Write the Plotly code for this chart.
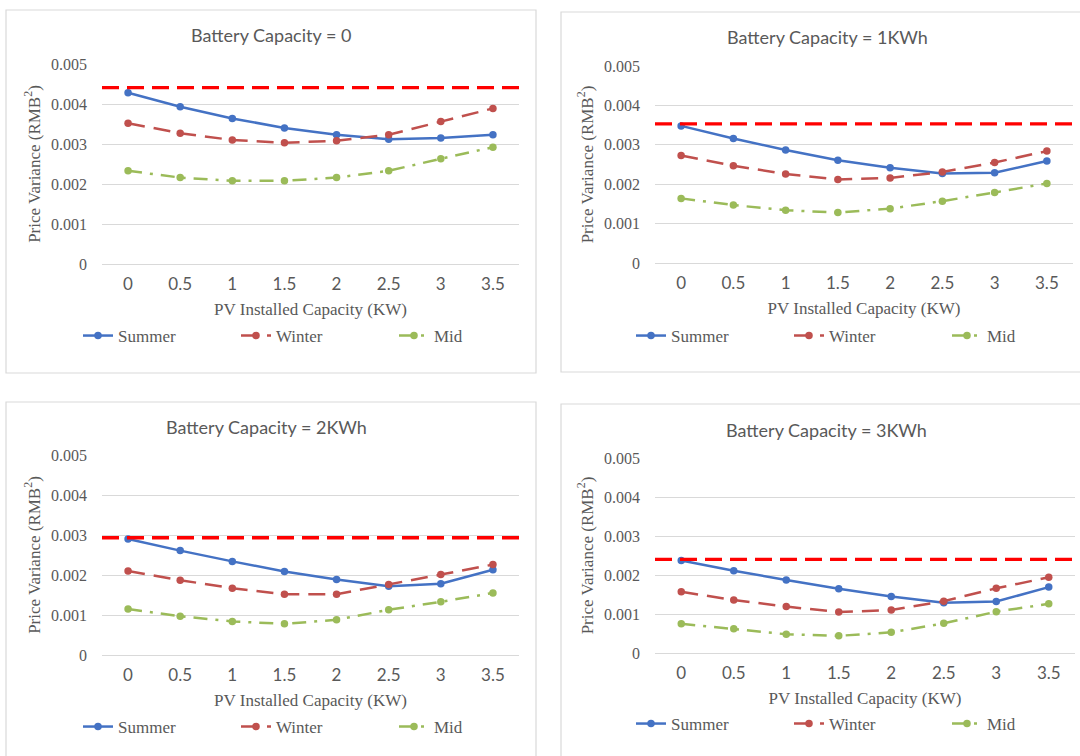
import plotly.graph_objects as go

# ---------------- data ----------------
pv_capacity = ["0", "0.5", "1", "1.5", "2", "2.5", "3", "3.5"]

panel_titles = ["Battery Capacity = 0", "Battery Capacity = 1KWh",
                "Battery Capacity = 2KWh", "Battery Capacity = 3KWh"]

summer_b0 = [0.00428, 0.00393, 0.00364, 0.00340, 0.00323, 0.00312, 0.00315, 0.00323]
winter_b0 = [0.00352, 0.00327, 0.00310, 0.00303, 0.00308, 0.00323, 0.00356, 0.00389]
mid_b0 = [0.00233, 0.00216, 0.00208, 0.00208, 0.00216, 0.00233, 0.00263, 0.00292]
baseline_b0 = 0.00441

summer_b1 = [0.00348, 0.00316, 0.00287, 0.00261, 0.00242, 0.00227, 0.00229, 0.00259]
winter_b1 = [0.00273, 0.00247, 0.00226, 0.00212, 0.00216, 0.00231, 0.00255, 0.00284]
mid_b1 = [0.00164, 0.00147, 0.00134, 0.00128, 0.00138, 0.00157, 0.00179, 0.00202]
baseline_b1 = 0.00353

summer_b2 = [0.00290, 0.00261, 0.00234, 0.00209, 0.00189, 0.00172, 0.00178, 0.00213]
winter_b2 = [0.00210, 0.00187, 0.00167, 0.00152, 0.00152, 0.00176, 0.00201, 0.00226]
mid_b2 = [0.00115, 0.00097, 0.00084, 0.00078, 0.00088, 0.00113, 0.00133, 0.00155]
baseline_b2 = 0.00293

summer_b3 = [0.00237, 0.00211, 0.00187, 0.00165, 0.00145, 0.00129, 0.00132, 0.00169]
winter_b3 = [0.00157, 0.00136, 0.00119, 0.00105, 0.00110, 0.00133, 0.00166, 0.00194]
mid_b3 = [0.00075, 0.00062, 0.00048, 0.00044, 0.00053, 0.00076, 0.00106, 0.00126]
baseline_b3 = 0.00240

y_ticks = [0, 0.001, 0.002, 0.003, 0.004, 0.005]
y_tick_labels = ["0", "0.001", "0.002", "0.003", "0.004", "0.005"]

series_names = ["Summer", "Winter", "Mid"]

panels = [
    (summer_b0, winter_b0, mid_b0, baseline_b0),
    (summer_b1, winter_b1, mid_b1, baseline_b1),
    (summer_b2, winter_b2, mid_b2, baseline_b2),
    (summer_b3, winter_b3, mid_b3, baseline_b3),
]

# ---------------- layout geometry (pixels) ----------------
W, H = 1080, 756
def px(x):
    return x / W
def py(y):
    return 1 - y / H

# plot area per panel: (left, right, top, bottom) in px
areas = [
    (102, 519, 64, 264),
    (655, 1073, 66, 263),
    (102, 519, 455, 655),
    (655, 1075, 458, 653),
]
frames = [
    (6, 536, 10, 373),
    (561, 1095, 12, 372),
    (6, 536, 402, 770),
    (561, 1095, 404, 770),
]
title_pos = [(271, 35), (827, 37), (266, 427), (826, 430)]
legend_pos = [(78, 336), (631, 336), (78, 727), (631, 724)]

colors = ["#4472C4", "#C0504D", "#9BBB59"]
dashes = ["solid", "17px,9px", "14px,8px,3px,8px"]

GREY = "#595959"
SERIF = "Liberation Serif, Times New Roman, serif"
SANS = "Lato, Carlito, Calibri, Open Sans, sans-serif"

fig = go.Figure()

for i, (s, w, m, base) in enumerate(panels):
    k = "" if i == 0 else str(i + 1)
    xa, ya = "x" + k, "y" + k
    lg = "legend" + k
    for name, vals, col, dash in zip(series_names, (s, w, m), colors, dashes):
        fig.add_trace(go.Scatter(
            x=pv_capacity, y=vals, name=name, mode="lines+markers",
            line=dict(color=col, width=2.5, dash=dash),
            marker=dict(color=col, size=7.5, symbol="circle"),
            xaxis=xa, yaxis=ya, legend=lg,
        ))
    # red dashed reference line
    fig.add_shape(type="line", xref=xa + " domain", yref=ya,
                  x0=0, x1=1, y0=base, y1=base,
                  line=dict(color="#FF0000", width=3.4, dash="17px,8px"))
    l, r, t, b = areas[i]
    fig.update_layout(**{
        "xaxis" + k: dict(
            domain=[px(l), px(r)], anchor=ya, type="category",
            categoryorder="array", categoryarray=pv_capacity,
            range=[-0.5, 7.5], showgrid=False, showline=False, ticks="",
            ticklabelstandoff=8,
            tickfont=dict(family=SANS, size=17, color=GREY),
            title=dict(text="PV Installed Capacity (KW)", standoff=10,
                       font=dict(family=SERIF, size=17, color=GREY)),
            fixedrange=True,
        ),
        "yaxis" + k: dict(
            domain=[py(b), py(t)], anchor=xa, range=[0, 0.005],
            tickvals=y_ticks, ticktext=y_tick_labels,
            showgrid=True, gridcolor="#D9D9D9", gridwidth=1,
            zeroline=True, zerolinecolor="#D9D9D9", zerolinewidth=1,
            showline=False, ticks="", ticklabelstandoff=14,
            tickfont=dict(family=SERIF, size=16, color=GREY),
            title=dict(text="Price Variance (RMB<sup>2</sup>)", standoff=6,
                       font=dict(family=SERIF, size=17, color=GREY)),
            fixedrange=True,
        ),
        lg: dict(
            orientation="h", x=px(legend_pos[i][0]), y=py(legend_pos[i][1]),
            xanchor="left", yanchor="middle", entrywidth=113,
            entrywidthmode="pixels", bgcolor="rgba(0,0,0,0)",
            font=dict(family=SERIF, size=17, color=GREY),
            itemclick=False, itemdoubleclick=False,
        ),
    })
    # panel frame
    fl, fr, ft, fb = frames[i]
    fig.add_shape(type="rect", xref="paper", yref="paper",
                  x0=px(fl), x1=px(fr), y0=py(fb), y1=py(ft),
                  line=dict(color="#D9D9D9", width=1.2), layer="below")
    tx, ty = title_pos[i]
    fig.add_annotation(xref="paper", yref="paper", x=px(tx), y=py(ty),
                       text=panel_titles[i], showarrow=False,
                       xanchor="center", yanchor="middle",
                       font=dict(family=SANS, size=18, color=GREY))

fig.update_layout(
    width=W, height=H,
    margin=dict(l=0, r=0, t=0, b=0, autoexpand=False),
    paper_bgcolor="white", plot_bgcolor="white",
    showlegend=True,
)

fig.write_html("out.html", config={"displayModeBar": False},
               post_script="document.body.style.margin='0';")
